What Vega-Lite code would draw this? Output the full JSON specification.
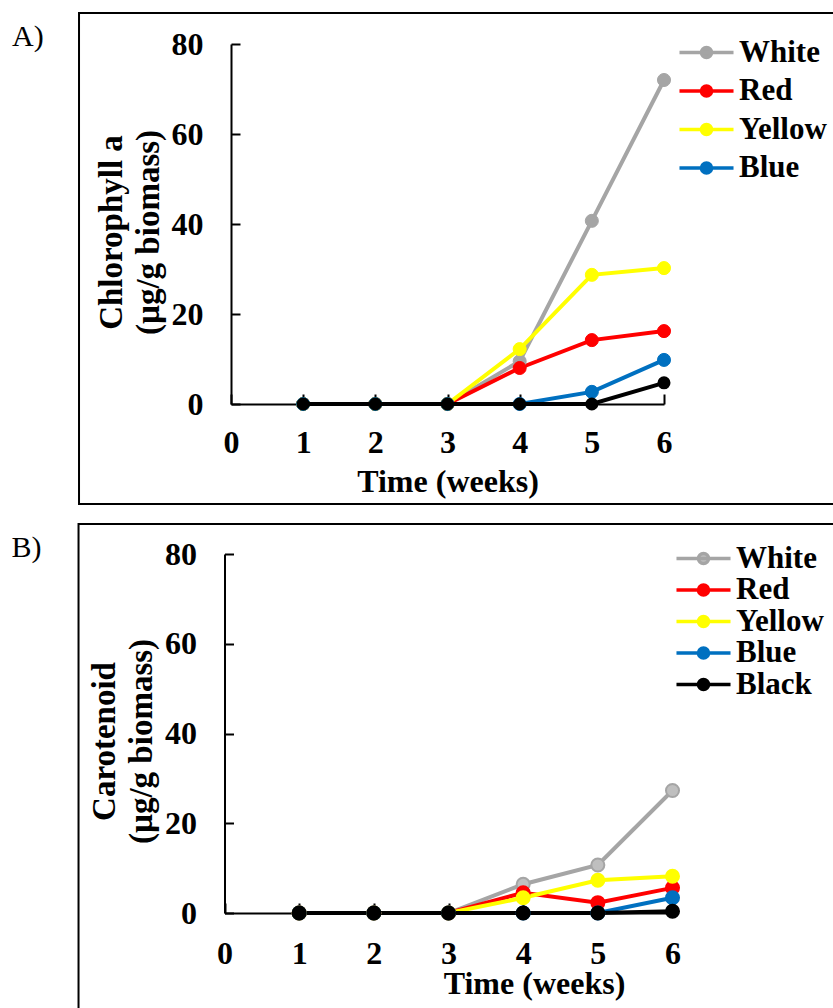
{
  "$schema": "https://vega.github.io/schema/vega-lite/v6.json",
  "background": "white",
  "padding": {"left": 11, "top": 11, "right": 0, "bottom": 0},
  "spacing": 17,
  "resolve": {
    "scale": {"x": "independent", "y": "independent", "fill": "independent", "stroke": "independent"},
    "legend": {"fill": "independent", "stroke": "independent"}
  },
  "config": {
    "font": "Liberation Serif",
    "view": {"stroke": null},
    "axis": {
      "grid": false,
      "labelFlush": false,
      "domainColor": "black",
      "domainWidth": 2,
      "tickColor": "black",
      "tickWidth": 2,
      "labelFont": "Liberation Serif",
      "labelFontWeight": "bold",
      "labelFontSize": 32,
      "labelColor": "black",
      "titleFont": "Liberation Serif",
      "titleFontWeight": "bold",
      "titleColor": "black"
    },
    "axisX": {"tickSize": -10, "labelPadding": 33, "titleFontSize": 32, "titlePadding": 8},
    "axisY": {"tickSize": -9, "labelPadding": 37, "titleFontSize": 33, "titleLineHeight": 37, "titlePadding": 6},
    "legend": {
      "orient": "none",
      "padding": 0,
      "symbolType": "M-3.86,0H3.86M-0.72,0A0.72,0.72,0,1,1,0.72,0A0.72,0.72,0,1,1,-0.72,0Z",
      "symbolSize": 196,
      "symbolStrokeWidth": 3.5,
      "labelFont": "Liberation Serif",
      "labelFontWeight": "bold",
      "labelFontSize": 31,
      "labelColor": "black",
      "labelLimit": 0
    },
    "title": {
      "anchor": "start",
      "frame": "bounds",
      "orient": "top",
      "offset": 0,
      "baseline": "alphabetic",
      "font": "Liberation Serif",
      "fontSize": 30,
      "fontWeight": "normal",
      "color": "black"
    }
  },
  "datasets": {
    "chla": [
      {"light": "White", "week": 1, "value": 0},
      {"light": "White", "week": 2, "value": 0},
      {"light": "White", "week": 3, "value": 0},
      {"light": "White", "week": 4, "value": 9.5},
      {"light": "White", "week": 5, "value": 40.7},
      {"light": "White", "week": 6, "value": 72},
      {"light": "Red", "week": 1, "value": 0},
      {"light": "Red", "week": 2, "value": 0},
      {"light": "Red", "week": 3, "value": 0},
      {"light": "Red", "week": 4, "value": 8.0},
      {"light": "Red", "week": 5, "value": 14.2},
      {"light": "Red", "week": 6, "value": 16.2},
      {"light": "Yellow", "week": 1, "value": 0},
      {"light": "Yellow", "week": 2, "value": 0},
      {"light": "Yellow", "week": 3, "value": 0},
      {"light": "Yellow", "week": 4, "value": 12.2},
      {"light": "Yellow", "week": 5, "value": 28.7},
      {"light": "Yellow", "week": 6, "value": 30.2},
      {"light": "Blue", "week": 1, "value": 0},
      {"light": "Blue", "week": 2, "value": 0},
      {"light": "Blue", "week": 3, "value": 0},
      {"light": "Blue", "week": 4, "value": 0},
      {"light": "Blue", "week": 5, "value": 2.7},
      {"light": "Blue", "week": 6, "value": 9.8},
      {"light": "Black", "week": 1, "value": 0},
      {"light": "Black", "week": 2, "value": 0},
      {"light": "Black", "week": 3, "value": 0},
      {"light": "Black", "week": 4, "value": 0},
      {"light": "Black", "week": 5, "value": 0},
      {"light": "Black", "week": 6, "value": 4.7}
    ],
    "carot": [
      {"light": "White", "week": 1, "value": 0},
      {"light": "White", "week": 2, "value": 0},
      {"light": "White", "week": 3, "value": 0},
      {"light": "White", "week": 4, "value": 6.4},
      {"light": "White", "week": 5, "value": 10.7},
      {"light": "White", "week": 6, "value": 27.3},
      {"light": "Red", "week": 1, "value": 0},
      {"light": "Red", "week": 2, "value": 0},
      {"light": "Red", "week": 3, "value": 0},
      {"light": "Red", "week": 4, "value": 4.5},
      {"light": "Red", "week": 5, "value": 2.3},
      {"light": "Red", "week": 6, "value": 5.6},
      {"light": "Yellow", "week": 1, "value": 0},
      {"light": "Yellow", "week": 2, "value": 0},
      {"light": "Yellow", "week": 3, "value": 0},
      {"light": "Yellow", "week": 4, "value": 3.4},
      {"light": "Yellow", "week": 5, "value": 7.3},
      {"light": "Yellow", "week": 6, "value": 8.2},
      {"light": "Blue", "week": 1, "value": 0},
      {"light": "Blue", "week": 2, "value": 0},
      {"light": "Blue", "week": 3, "value": 0},
      {"light": "Blue", "week": 4, "value": 0},
      {"light": "Blue", "week": 5, "value": 0},
      {"light": "Blue", "week": 6, "value": 3.4},
      {"light": "Black", "week": 1, "value": 0},
      {"light": "Black", "week": 2, "value": 0},
      {"light": "Black", "week": 3, "value": 0},
      {"light": "Black", "week": 4, "value": 0},
      {"light": "Black", "week": 5, "value": 0},
      {"light": "Black", "week": 6, "value": 0.4}
    ]
  },
  "vconcat": [
    {
      "width": 433,
      "height": 360,
      "title": {"text": "A)", "dx": -66, "dy": 44},
      "layer": [
        {
          "data": {"values": [{"part": "frame"}]},
          "mark": {"type": "rect", "fill": "transparent", "stroke": "black", "strokeWidth": 2},
          "encoding": {
            "x": {"datum": -2.106, "type": "quantitative"},
            "x2": {"datum": 8.4},
            "y": {"datum": 86.9, "type": "quantitative"},
            "y2": {"datum": -22.2}
          }
        },
        {
          "data": {"name": "chla"},
          "transform": [{"filter": "datum.light !== 'Black'"}],
          "mark": {"type": "line", "strokeWidth": 4},
          "encoding": {
            "x": {
              "field": "week",
              "type": "quantitative",
              "title": "Time (weeks)",
              "scale": {"domain": [0, 6], "nice": false, "zero": false},
              "axis": {"values": [0, 1, 2, 3, 4, 5, 6], "format": "d"}
            },
            "y": {
              "field": "value",
              "type": "quantitative",
              "title": ["Chlorophyll a", "(µg/g biomass)"],
              "scale": {"domain": [0, 80], "nice": false},
              "axis": {"values": [0, 20, 40, 60, 80], "titleY": 188}
            },
            "stroke": {
              "field": "light",
              "type": "nominal",
              "scale": {"domain": ["White", "Red", "Yellow", "Blue"], "range": ["#a5a5a5", "#ff0000", "#ffff00", "#0070c0"]},
              "legend": {"title": null, "legendX": 460, "legendY": -7, "labelOffset": 17, "rowPadding": 6.5}
            }
          }
        },
        {
          "data": {"name": "chla"},
          "transform": [{"filter": "datum.light !== 'Black'"}],
          "mark": {"type": "point", "filled": true, "size": 170, "opacity": 1, "strokeWidth": 1},
          "encoding": {
            "x": {"field": "week", "type": "quantitative"},
            "y": {"field": "value", "type": "quantitative"},
            "fill": {
              "field": "light",
              "type": "nominal",
              "scale": {"domain": ["White", "Red", "Yellow", "Blue"], "range": ["#a5a5a5", "#ff0000", "#ffff00", "#0070c0"]},
              "legend": {"title": null, "legendX": 460, "legendY": -7, "labelOffset": 17, "rowPadding": 6.5}
            },
            "stroke": {
              "field": "light",
              "type": "nominal",
              "legend": {"title": null, "legendX": 460, "legendY": -7, "labelOffset": 17, "rowPadding": 6.5}
            }
          }
        },
        {
          "data": {"name": "chla"},
          "transform": [{"filter": "datum.light === 'Black'"}],
          "mark": {"type": "line", "strokeWidth": 4, "color": "black"},
          "encoding": {
            "x": {"field": "week", "type": "quantitative"},
            "y": {"field": "value", "type": "quantitative"}
          }
        },
        {
          "data": {"name": "chla"},
          "transform": [{"filter": "datum.light === 'Black'"}],
          "mark": {"type": "point", "filled": true, "size": 170, "opacity": 1, "color": "black"},
          "encoding": {
            "x": {"field": "week", "type": "quantitative"},
            "y": {"field": "value", "type": "quantitative"}
          }
        }
      ]
    },
    {
      "width": 448,
      "height": 359,
      "title": {"text": "B)", "dx": -66, "dy": 44},
      "layer": [
        {
          "data": {"values": [{"part": "frame"}]},
          "mark": {"type": "rect", "fill": "transparent", "stroke": "black", "strokeWidth": 2},
          "encoding": {
            "x": {"datum": -1.955, "type": "quantitative"},
            "x2": {"datum": 8.2},
            "y": {"datum": 86.7, "type": "quantitative"},
            "y2": {"datum": -22.5}
          }
        },
        {
          "data": {"name": "carot"},
          "mark": {"type": "line", "strokeWidth": 4},
          "encoding": {
            "x": {
              "field": "week",
              "type": "quantitative",
              "title": "Time (weeks)",
              "scale": {"domain": [0, 6], "nice": false, "zero": false, "range": [-6.5, 441.5]},
              "axis": {"values": [0, 1, 2, 3, 4, 5, 6], "format": "d", "titleX": 303, "labelPadding": 35, "titlePadding": -1}
            },
            "y": {
              "field": "value",
              "type": "quantitative",
              "title": ["Carotenoid", "(µg/g biomass)"],
              "scale": {"domain": [0, 80], "nice": false},
              "axis": {"values": [0, 20, 40, 60, 80], "titleY": 187, "offset": 6.5}
            },
            "stroke": {
              "field": "light",
              "type": "nominal",
              "scale": {"domain": ["White", "Red", "Yellow", "Blue", "Black"], "range": ["#a5a5a5", "#ff0000", "#ffff00", "#0070c0", "#000000"]},
              "legend": {"title": null, "legendX": 457, "legendY": -11, "labelOffset": 17, "rowPadding": -0.5}
            }
          }
        },
        {
          "data": {"name": "carot"},
          "mark": {"type": "point", "filled": true, "size": 170, "opacity": 1, "strokeWidth": 2},
          "encoding": {
            "x": {"field": "week", "type": "quantitative"},
            "y": {"field": "value", "type": "quantitative"},
            "fill": {
              "field": "light",
              "type": "nominal",
              "scale": {"domain": ["White", "Red", "Yellow", "Blue", "Black"], "range": ["#bfbfbf", "#ff0000", "#ffff00", "#0070c0", "#000000"]},
              "legend": {"title": null, "legendX": 457, "legendY": -11, "labelOffset": 17, "rowPadding": -0.5}
            },
            "stroke": {
              "field": "light",
              "type": "nominal",
              "legend": {"title": null, "legendX": 457, "legendY": -11, "labelOffset": 17, "rowPadding": -0.5}
            }
          }
        }
      ]
    }
  ]
}
